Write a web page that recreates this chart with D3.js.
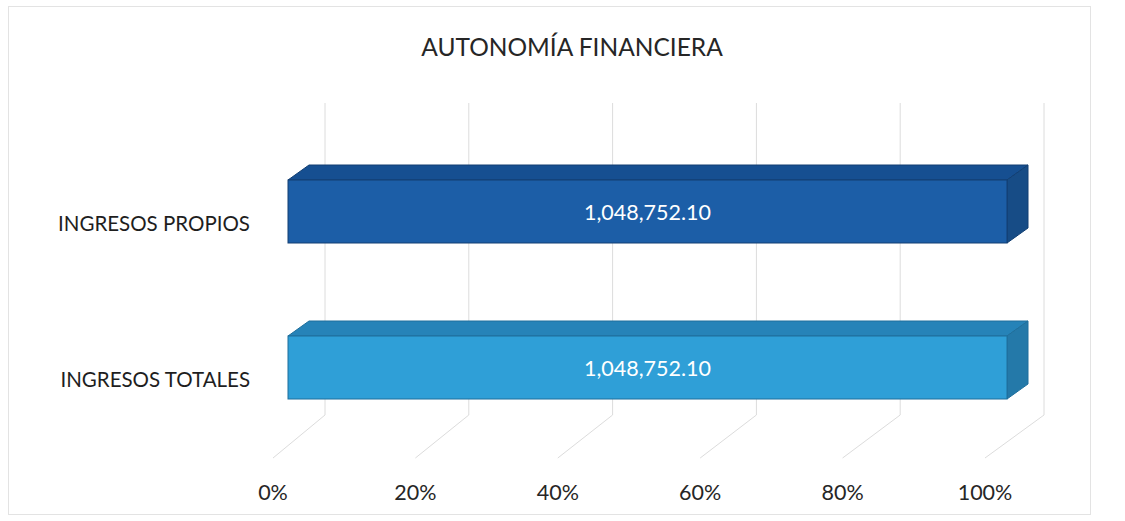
<!DOCTYPE html>
<html>
<head>
<meta charset="utf-8">
<script src="https://cdn.jsdelivr.net/npm/d3@7"></script>
<style>
  body { margin: 0; background: #fff; }
  svg { display: block; font-family: Lato, "Open Sans", sans-serif; }
</style>
</head>
<body>
<div id="chart"></div>
<script>
// chart data
var categories = ["INGRESOS PROPIOS", "INGRESOS TOTALES"];
var values = [1048752.10, 1048752.10];
var tickValues = [0, 0.2, 0.4, 0.6, 0.8, 1];
var title = "AUTONOMÍA FINANCIERA";

var barColors = [
  { front: "#1c5ea7", top: "#164f91", side: "#174c86", stroke: "#123f73" },
  { front: "#2f9fd7", top: "#2683b8", side: "#2479a9", stroke: "#1f6f9c" }
];

var width = 1125, height = 521;

var svg = d3.select("#chart").append("svg")
  .attr("width", width)
  .attr("height", height);

// chart frame
svg.append("rect")
  .attr("x", 8.5).attr("y", 6.5)
  .attr("width", 1082).attr("height", 508)
  .attr("fill", "none")
  .attr("stroke", "#e3e3e3");

// title
svg.append("text")
  .attr("x", 572).attr("y", 56)
  .attr("text-anchor", "middle")
  .attr("font-size", 24.5)
  .attr("fill", "#262626")
  .text(title);

// 3D floor + wall scales
var xBack = d3.scaleLinear().domain([0, 1]).range([325, 1044]);
var xFront = d3.scaleLinear().domain([0, 1]).range([273, 985]);
var wallTop = 103, floorBack = 415, floorFront = 458;

// bar scales
var xBar = d3.scaleLinear().domain([0, 1]).range([288, 1007]);
var yCenter = d3.scalePoint().domain(categories).range([211.5, 367.5]);
var barH = 63, depthX = 21, depthY = -15;

var grid = svg.append("g").attr("class", "grid");
grid.selectAll("path")
  .data(tickValues)
  .enter()
  .append("path")
  .attr("d", function (t) {
    return "M" + xBack(t) + "," + wallTop +
      "L" + xBack(t) + "," + floorBack +
      "L" + xFront(t) + "," + floorFront;
  })
  .attr("fill", "none")
  .attr("stroke", "#dcdcdc")
  .attr("stroke-width", 1);

// tick labels
svg.append("g")
  .selectAll("text")
  .data(tickValues)
  .enter()
  .append("text")
  .attr("x", function (t) { return xFront(t); })
  .attr("y", 500)
  .attr("text-anchor", "middle")
  .attr("font-size", 21.5)
  .attr("fill", "#262626")
  .text(d3.format(".0%"));

// bars: 100% stacked, one series
var total = values.map(function (v) { return v; });
var bars = svg.selectAll(".bar")
  .data(categories)
  .enter()
  .append("g")
  .attr("class", "bar");

bars.each(function (c, i) {
  var g = d3.select(this);
  var col = barColors[i];
  var x0 = xBar(0), x1 = xBar(values[i] / total[i]);
  var y0 = yCenter(c) - barH / 2, y1 = yCenter(c) + barH / 2;

  // top face
  g.append("path")
    .attr("d", "M" + x0 + "," + y0 + "L" + (x0 + depthX) + "," + (y0 + depthY) +
      "L" + (x1 + depthX) + "," + (y0 + depthY) + "L" + x1 + "," + y0 + "Z")
    .attr("fill", col.top)
    .attr("stroke", col.stroke)
    .attr("stroke-width", 1);

  // right side face
  g.append("path")
    .attr("d", "M" + x1 + "," + y0 + "L" + (x1 + depthX) + "," + (y0 + depthY) +
      "L" + (x1 + depthX) + "," + (y1 + depthY) + "L" + x1 + "," + y1 + "Z")
    .attr("fill", col.side)
    .attr("stroke", col.stroke)
    .attr("stroke-width", 1);

  // front face
  g.append("rect")
    .attr("x", x0).attr("y", y0)
    .attr("width", x1 - x0).attr("height", barH)
    .attr("fill", col.front)
    .attr("stroke", col.stroke)
    .attr("stroke-width", 1);

  // value label
  g.append("text")
    .attr("x", (x0 + x1) / 2)
    .attr("y", yCenter(c) + 8)
    .attr("text-anchor", "middle")
    .attr("font-size", 21.5)
    .attr("fill", "#ffffff")
    .text(d3.format(",.2f")(values[i]));
});

// category labels
svg.append("g")
  .selectAll("text")
  .data(categories)
  .enter()
  .append("text")
  .attr("x", 250)
  .attr("y", function (c) { return yCenter(c) + 19; })
  .attr("text-anchor", "end")
  .attr("font-size", 20.5)
  .attr("fill", "#1e1e1e")
  .text(function (c) { return c; });
</script>
</body>
</html>
